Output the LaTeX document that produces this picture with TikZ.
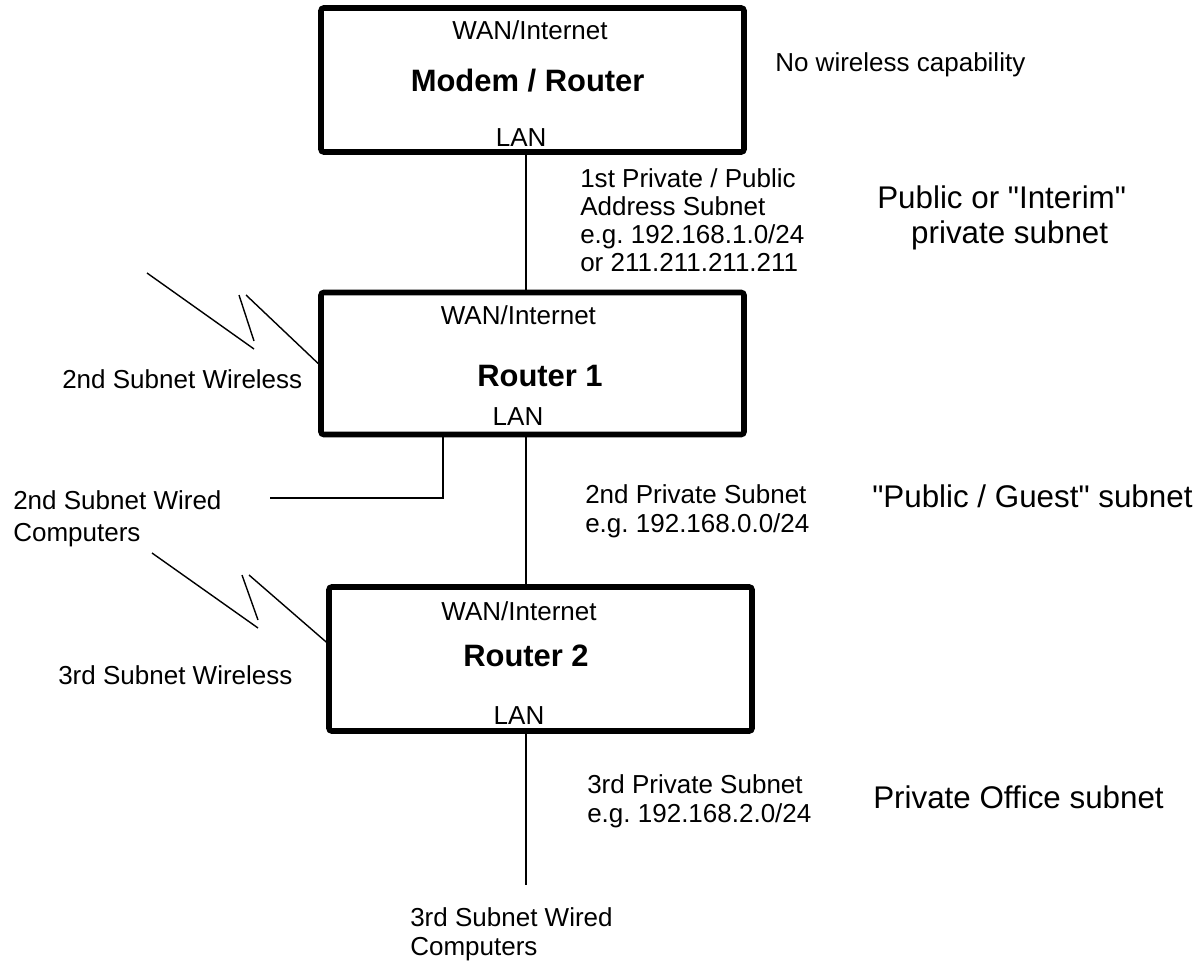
\documentclass[tikz,border=0pt]{standalone}
\usepackage{fontspec}
\setmainfont{Liberation Sans}
\usetikzlibrary{calc, positioning}
\tikzstyle{router} = [draw, line width=4pt, rounded corners=2pt, minimum width=10.575cm, minimum height=3.6cm, inner sep=0pt]
\tikzstyle{port} = [font=\fontsize{18.5}{20.6}\selectfont, inner sep=0pt, anchor=base]
\tikzstyle{title} = [font=\fontsize{22}{25}\selectfont\bfseries, inner sep=0pt, anchor=base]
\tikzstyle{note} = [font=\fontsize{18.5}{20.1}\selectfont, inner sep=0pt, align=left, anchor=base west]
\tikzstyle{bignote} = [font=\fontsize{22.3}{24.9}\selectfont, inner sep=0pt, anchor=base west]
\tikzstyle{link} = [line width=1pt]

\begin{document}
\frenchspacing
\begin{tikzpicture}
\useasboundingbox (0, 0) rectangle (30.075, -24.025);

  \node[router] (modem) at (13.3125, -2) {};
  \node[router, minimum height=3.55cm] (router1) at (13.3125, -9.0875) {};
  \node[router] (router2) at (13.5125, -16.475) {};

  \node[port] (wan0) at (13.25, -1) {WAN/Internet};
  \node[title] (name0) at (13.19, -2.3) {Modem / Router};
  \node[port] (lan0) at (13.03, -3.675) {LAN};

  \node[port] (wan1) at (12.96, -8.125) {WAN/Internet};
  \node[title] (name1) at (13.5, -9.675) {Router 1};
  \node[port] (lan1) at (12.95, -10.625) {LAN};

  \node[port] (wan2) at (12.975, -15.5) {WAN/Internet};
  \node[title] (name2) at (13.15, -16.65) {Router 2};
  \node[port] (lan2) at (12.975, -18.1) {LAN};

  % subnet text (anchor on the last line)
  \node[note] (nowifi) at (19.375, -1.8) {No wireless capability};
  \node[note] (subnet1) at (14.5, -6.8) {1st Private / Public\\Address Subnet\\e.g. 192.168.1.0/24\\or 211.211.211.211};
  \node[bignote, align=center] (interim) at (21.925, -6.1) {Public or \textquotedbl Interim\textquotedbl\\\hspace*{0.4cm}private subnet};
  \node[note] (wireless2) at (1.55, -9.7) {2nd Subnet Wireless};
  \node[note, font=\fontsize{18.5}{22.3}\selectfont] (wired2) at (0.325, -13.525) {2nd Subnet Wired\\Computers};
  \node[note] (subnet2) at (14.625, -13.3) {2nd Private Subnet\\e.g. 192.168.0.0/24};
  \node[bignote] (guest) at (21.8, -12.675) {\textquotedbl Public / Guest\textquotedbl\ subnet};
  \node[note] (wireless3) at (1.45, -17.1) {3rd Subnet Wireless};
  \node[note] (subnet3) at (14.675, -20.55) {3rd Private Subnet\\e.g. 192.168.2.0/24};
  \node[bignote] (office) at (21.825, -20.2) {Private Office subnet};
  \node[note] (wired3) at (10.25, -23.875) {3rd Subnet Wired\\Computers};

  \coordinate (drop2) at (6.75, -12.45);
  \coordinate (drop3) at (13.15, -22.125);
  \coordinate (air1) at (3.675, -6.825);
  \coordinate (air2) at (3.8, -13.825);

  \draw[link] ([xshift=-0.1625cm]modem.south) -- ([xshift=-0.1625cm]modem.south |- router1.north);
  \draw[link] ([xshift=-0.1625cm]router1.south) -- ([xshift=-0.1625cm]router1.south |- router2.north);
  \draw[link] ([xshift=-0.3625cm]router2.south) -- (drop3);
  \draw[link] ([xshift=-2.2375cm]router1.south) |- (drop2);

  \draw[link] (air1) -- ++(2.675, -1.9) ++(0, 0.2) -- ++(-0.375, 1.15) ++(0.175, 0) -- (router1.west);
  \draw[link] (air2) -- ++(2.65, -1.875) ++(0, 0.2) -- ++(-0.4, 1.125) ++(0.175, 0) -- ([yshift=0.425cm]router2.west);

\end{tikzpicture}
\end{document}
